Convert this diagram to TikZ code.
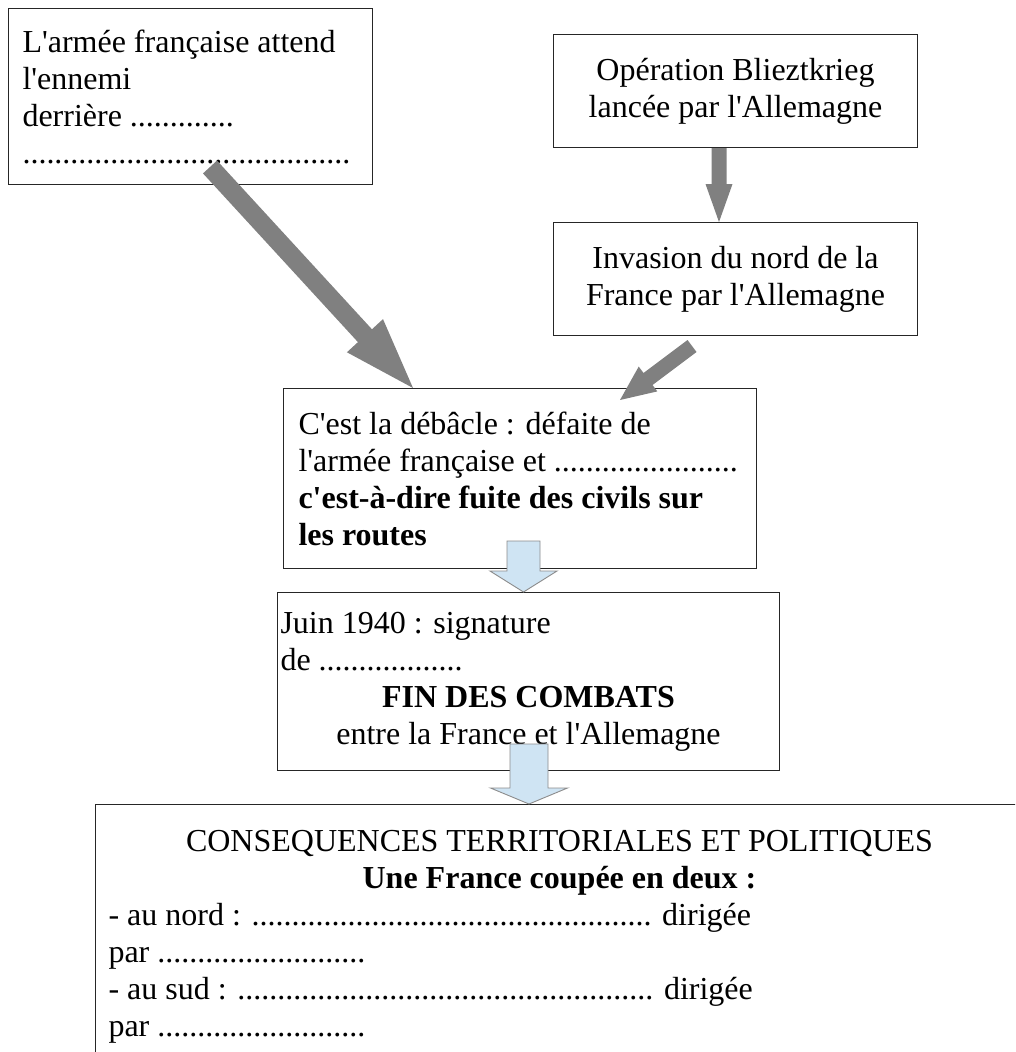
\documentclass[tikz,border=0pt]{standalone}
\usepackage{fontspec}
\setmainfont{Liberation Serif}
\usetikzlibrary{calc}
\definecolor{arrowgray}{HTML}{808080}
\definecolor{paleblue}{HTML}{CFE4F3}
\definecolor{paleborder}{HTML}{8C8C8C}
\newcommand\q{\textquotesingle}
% #1 style, #2 start, #3 tip, #4 shaft half width, #5 head half width, #6 head length
\newcommand\blockarrow[6]{%
  \path[#1] let \p1=($(#3)-(#2)$), \n1={atan2(\y1,\x1)}, \n2={veclen(\x1,\y1)} in
    [shift={(#2)},rotate=\n1]
    (0,-#4) -- ({\n2-#6},-#4) -- ({\n2-#6},-#5) -- (\n2,0) -- ({\n2-#6},#5) -- ({\n2-#6},#4) -- (0,#4) -- cycle;}
\begin{document}
\begin{tikzpicture}[x=1pt,y=-1pt,
  box/.style={draw=black!85, line width=1pt, fill=white, anchor=north west,
    inner ysep=0pt, font=\fontsize{32pt}{37pt}\selectfont},
  leftbox/.style={box, align=flush left},
  centerbox/.style={box, align=flush center},
  grayarrow/.style={fill=arrowgray},
  bluearrow/.style={fill=paleblue, draw=paleborder, line width=0.9pt, line join=miter}]
\useasboundingbox (0,0) rectangle (1015,1052);
\clip (0,0) rectangle (1015,1052);
\fill[white] (0,0) rectangle (1015,1052);

\node[leftbox, minimum width=364pt, minimum height=176pt, inner xsep=14pt, text width=336pt] (b1) at (8,8)
  {L\q armée française attend\\ l\q ennemi\\ derrière .............\\ .........................................};

\node[centerbox, minimum width=364pt, minimum height=113pt, inner xsep=8pt, text width=348pt] (b2) at (553,34)
  {Opération Blieztkrieg\\ lancée par l\q Allemagne};

\node[centerbox, minimum width=364pt, minimum height=113pt, inner xsep=8pt, text width=348pt] (b3) at (553,222)
  {Invasion du nord de la\\ France par l\q Allemagne};

\node[leftbox, minimum width=473pt, minimum height=180pt, inner xsep=15pt, text width=443pt] (b4) at (283,388)
  {C\q est la débâcle : défaite de\\ l\q armée française et .......................\\
   \textbf{c\q est-à-dire fuite des civils sur}\\ \textbf{les routes}};

\node[leftbox, minimum width=502pt, minimum height=178pt, inner xsep=3pt, text width=496pt] (b5) at (277,592)
  {Juin 1940 : signature\\ de ..................\par
   {\centering\textbf{FIN DES COMBATS}\\ entre la France et l\q Allemagne\par}};

\node[leftbox, minimum width=928pt, minimum height=264pt, inner xsep=13pt, text width=902pt] (b6) at (95,804)
  {{\centering CONSEQUENCES TERRITORIALES ET POLITIQUES\\ \textbf{Une France coupée en deux :}\par}
   - au nord : .................................................. dirigée\\
   par ..........................\\
   - au sud : .................................................... dirigée\\
   par ..........................};

% connector end points
\coordinate (g1s) at ($(b1.south west)+(202,-18)$);
\coordinate (g1e) at ($(b4.north west)+(130,0)$);
\coordinate (g2s) at ($(b3.south west)+(139,10)$);
\coordinate (g2e) at ($(b4.north west)+(337,12)$);
\coordinate (g3s) at ($(b2.south west)+(166,0)$);
\coordinate (g3e) at ($(b3.north west)+(166,0)$);
\coordinate (p1s) at ($(b4.south west)+(240.5,-28)$);
\coordinate (p1e) at ($(b5.north west)+(246.5,0)$);
\coordinate (p2s) at ($(b5.south west)+(252,-27)$);
\coordinate (p2e) at ($(b6.north west)+(434,0)$);

\blockarrow{grayarrow}{g1s}{g1e}{9.5}{24.5}{71}
\blockarrow{grayarrow}{g2s}{g2e}{7.5}{15.5}{35}
\blockarrow{grayarrow}{g3s}{g3e}{7.5}{13.5}{38}
\blockarrow{bluearrow}{p1s}{p1e}{16.5}{33.5}{21}
\blockarrow{bluearrow}{p2s}{p2e}{19}{38.5}{16}
\end{tikzpicture}
\end{document}
